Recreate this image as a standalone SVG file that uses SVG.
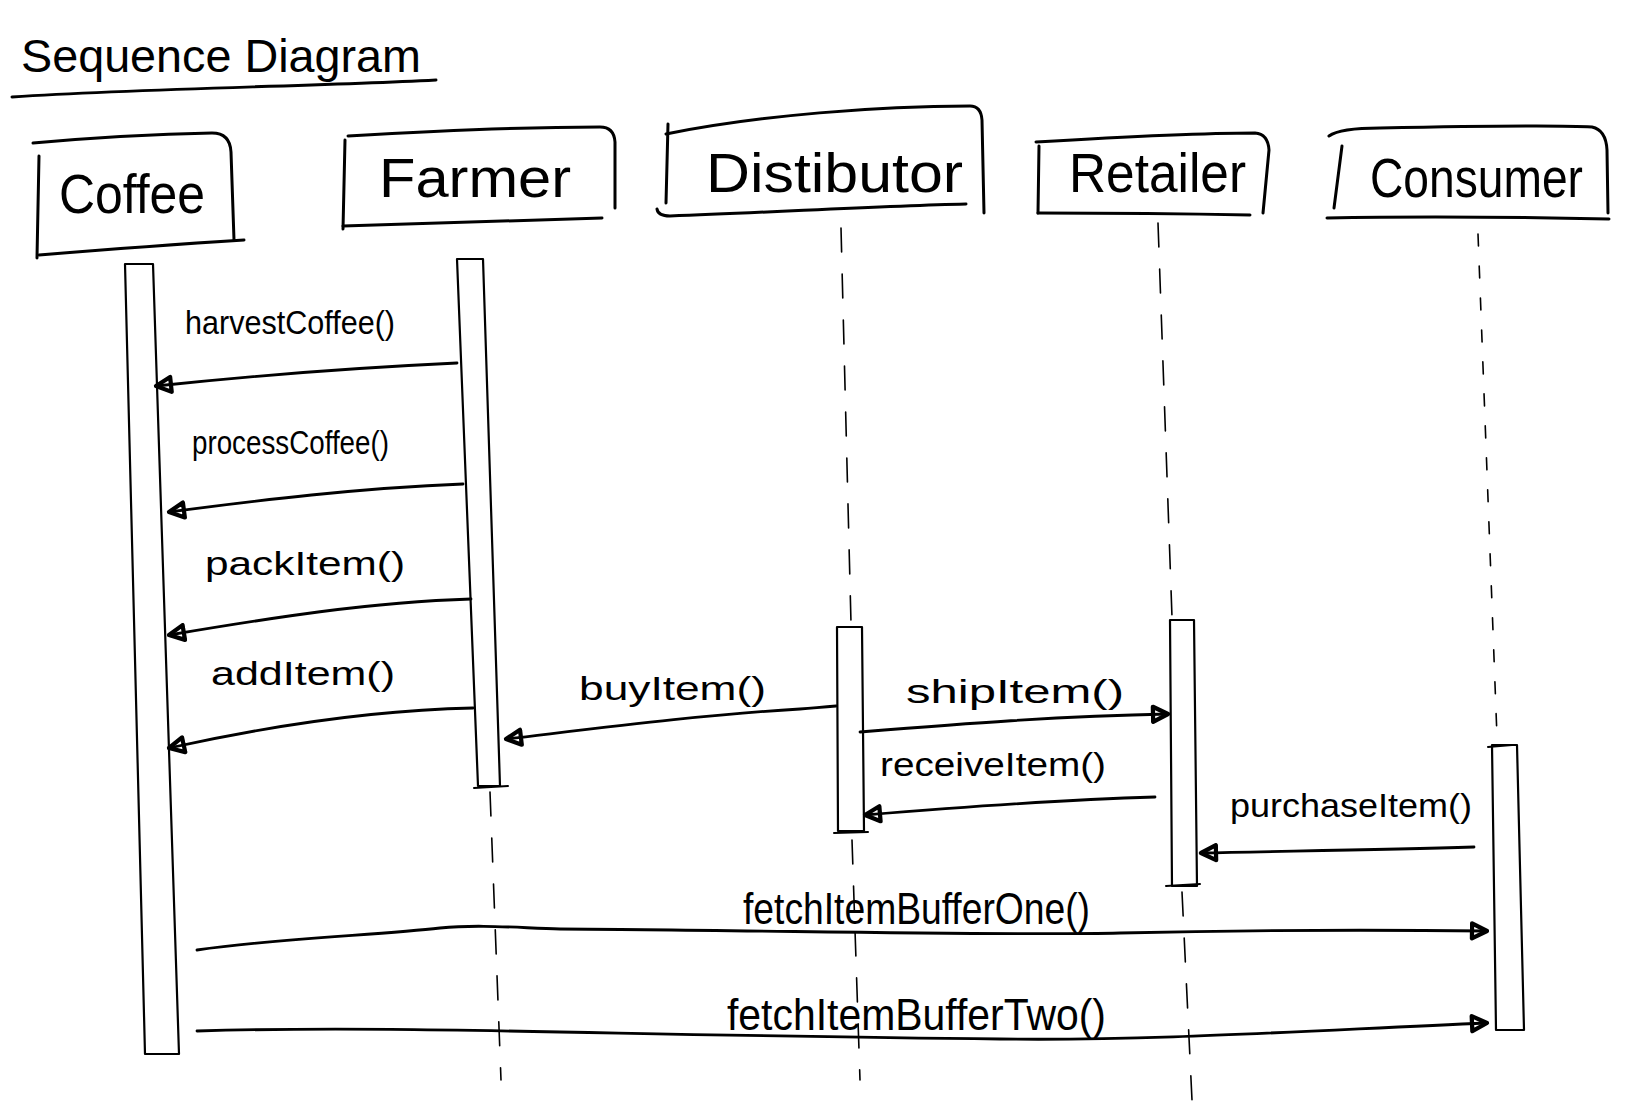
<svg xmlns="http://www.w3.org/2000/svg" width="1628" height="1112" viewBox="0 0 1628 1112">
<style>
.ln{fill:none;stroke:#000;stroke-width:3;stroke-linecap:round;stroke-linejoin:round}
.bar{fill:#fff;stroke:#000;stroke-width:2.2;stroke-linejoin:round}
.life{fill:none;stroke:#000;stroke-width:1.6;stroke-dasharray:24 22;stroke-linecap:round}
.name{font-family:"Liberation Sans",Arial,sans-serif;font-size:56px;fill:#000}
.lbl{font-family:"Liberation Sans",Arial,sans-serif;font-size:34px;fill:#000}
.lbl2{font-family:"Liberation Sans",Arial,sans-serif;font-size:44px;fill:#000}
.msg{fill:none;stroke:#000;stroke-width:2.8;stroke-linecap:round}
</style>
<defs>
<marker id="ah" viewBox="0 0 16 16" refX="14" refY="8" markerWidth="20" markerHeight="20" markerUnits="userSpaceOnUse" orient="auto">
<path d="M2,2 L14,8 L2,14 Z" fill="none" stroke="#000" stroke-width="3.4" stroke-linejoin="round"/>
</marker>
</defs>
<rect width="1628" height="1112" fill="#fff"/>
<g id="title">
<text x="21" y="72" style="font-family:'Liberation Sans',Arial,sans-serif;font-size:46px" textLength="400" lengthAdjust="spacingAndGlyphs">Sequence Diagram</text>
<path class="ln" d="M12,97 C150,88 300,87 436,80"/>
</g>
<g id="coffee">
<path class="ln" d="M33,143 C100,137 160,134 212,133 Q230,133 231,152 L234,240"/>
<path class="ln" d="M39,156 L37,258"/>
<path class="ln" d="M39,255 C100,250 180,244 244,240"/>
<text class="name" x="59" y="213" font-size="60" textLength="146" lengthAdjust="spacingAndGlyphs">Coffee</text>
<polygon class="bar" points="125,264 153,264 179,1054 145,1054"/>
</g>
<g id="farmer">
<path class="ln" d="M348,136 C450,130 540,127 600,127 Q614,127 615,142 L615,208"/>
<path class="ln" d="M345,140 L343,229"/>
<path class="ln" d="M343,226 C450,222 530,220 602,218"/>
<text class="name" x="379" y="197" textLength="192" lengthAdjust="spacingAndGlyphs">Farmer</text>
<polygon class="bar" points="457,259 483,259 500,786 478,786"/>
<path class="ln" style="stroke-width:2" d="M474,788 L508,786"/>
<path class="life" d="M490,792 L501,1080"/>
</g>
<g id="distributor">
<path class="ln" d="M666,134 C760,115 880,106 970,106 Q981,106 982,120 L984,213"/>
<path class="ln" d="M668,124 L666,203"/>
<path class="ln" d="M657,209 Q658,216 670,216 C780,212 880,206 966,204"/>
<text class="name" x="706" y="192" textLength="257" lengthAdjust="spacingAndGlyphs">Distibutor</text>
<path class="life" d="M841,228 L851,623"/>
<polygon class="bar" points="837,627 862,627 864,831 838,831"/>
<path class="ln" style="stroke-width:2" d="M834,833 L868,832"/>
<path class="life" d="M852,840 L860,1080"/>
</g>
<g id="retailer">
<path class="ln" d="M1036,142 C1120,137 1200,133 1255,133 Q1268,134 1269,150 L1263,213"/>
<path class="ln" d="M1039,146 L1038,213"/>
<path class="ln" d="M1038,213 C1120,213 1200,214 1250,215"/>
<text class="name" x="1069" y="192" textLength="177" lengthAdjust="spacingAndGlyphs">Retailer</text>
<path class="life" d="M1158,223 L1172,617"/>
<polygon class="bar" points="1170,620 1194,620 1197,886 1172,886"/>
<path class="ln" style="stroke-width:2" d="M1166,886 L1200,884"/>
<path class="life" d="M1182,892 L1192,1100"/>
</g>
<g id="consumer">
<path class="ln" d="M1329,136 Q1340,128 1380,128 C1480,126 1560,125 1592,127 Q1606,130 1607,150 L1608,213"/>
<path class="ln" d="M1342,146 L1334,208"/>
<path class="ln" d="M1327,218 C1420,216 1520,217 1609,219"/>
<text class="name" x="1370" y="197" textLength="213" lengthAdjust="spacingAndGlyphs">Consumer</text>
<path class="life" style="stroke-dasharray:12 20" d="M1478,234 L1497,737"/>
<polygon class="bar" points="1492,745 1517,745 1524,1030 1496,1030"/>
<path class="ln" style="stroke-width:2" d="M1488,747 L1512,745"/>
</g>
<g id="messages">
<path class="msg" marker-end="url(#ah)" d="M457,363 C350,368 250,376 156,386"/>
<text class="lbl" x="185" y="334" textLength="210" lengthAdjust="spacingAndGlyphs">harvestCoffee()</text>
<path class="msg" marker-end="url(#ah)" d="M463,484 C360,488 260,500 169,512"/>
<text class="lbl" x="192" y="454" textLength="197" lengthAdjust="spacingAndGlyphs">processCoffee()</text>
<path class="msg" marker-end="url(#ah)" d="M471,599 C370,602 270,618 169,635"/>
<text class="lbl" x="205" y="575" textLength="200" lengthAdjust="spacingAndGlyphs">packItem()</text>
<path class="msg" marker-end="url(#ah)" d="M473,708 C370,710 260,728 169,748"/>
<text class="lbl" x="211" y="685" textLength="184" lengthAdjust="spacingAndGlyphs">addItem()</text>
<path class="msg" marker-end="url(#ah)" d="M836,706 C820,707 815,708 800,709 C700,715 600,728 506,739"/>
<text class="lbl" x="579" y="700" textLength="187" lengthAdjust="spacingAndGlyphs">buyItem()</text>
<path class="msg" marker-end="url(#ah)" d="M860,732 C960,724 1060,716 1168,714"/>
<text class="lbl" x="906" y="703" textLength="218" lengthAdjust="spacingAndGlyphs">shipItem()</text>
<path class="msg" marker-end="url(#ah)" d="M1155,797 C1050,800 950,808 865,815"/>
<text class="lbl" x="880" y="776" textLength="226" lengthAdjust="spacingAndGlyphs">receiveItem()</text>
<path class="msg" marker-end="url(#ah)" d="M1474,847 C1380,850 1290,851 1201,853"/>
<text class="lbl" x="1230" y="817" textLength="242" lengthAdjust="spacingAndGlyphs">purchaseItem()</text>
<path class="msg" marker-end="url(#ah)" d="M197,950 C280,938 380,935 440,928 C480,924 520,928 560,929 C760,930 1000,936 1120,933 C1250,930 1400,930 1487,931"/>
<text class="lbl2" x="743" y="924" textLength="347" lengthAdjust="spacingAndGlyphs">fetchItemBufferOne()</text>
<path class="msg" marker-end="url(#ah)" d="M197,1031 C400,1025 600,1035 1000,1039 C1150,1041 1300,1031 1487,1023"/>
<text class="lbl2" x="727" y="1030" textLength="379" lengthAdjust="spacingAndGlyphs">fetchItemBufferTwo()</text>
</g>
</svg>
